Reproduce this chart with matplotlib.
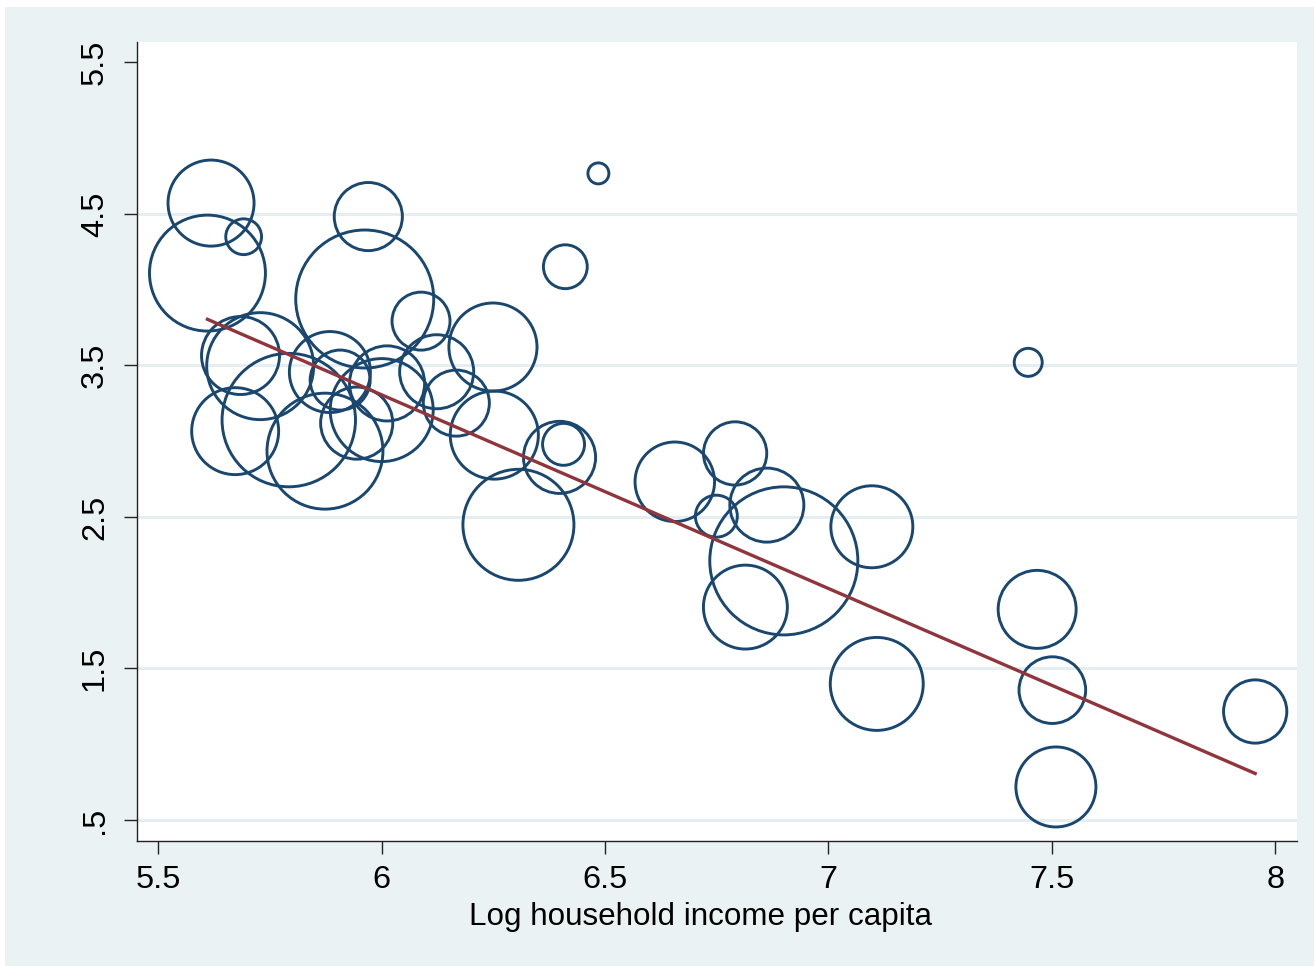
import matplotlib
matplotlib.use("Agg")
import matplotlib.pyplot as plt
from matplotlib.patches import Rectangle

# Log household income per capita (x), outcome (y), and population weights
income = [5.618, 5.610, 5.691, 5.970, 5.962, 6.088, 6.485, 6.411, 6.249, 6.123,
          6.167, 5.684, 5.728, 5.884, 5.907, 6.012, 6.000, 5.672, 5.792, 5.873,
          5.944, 6.252, 6.398, 6.407, 6.306, 6.656, 6.791, 6.749, 6.862, 6.900,
          6.814, 7.097, 7.108, 7.447, 7.467, 7.501, 7.509, 7.955]
outcome = [4.571, 4.109, 4.349, 4.482, 3.938, 3.792, 4.767, 4.151, 3.621, 3.458,
           3.251, 3.565, 3.495, 3.456, 3.403, 3.381, 3.205, 3.066, 3.139, 2.934,
           3.119, 3.040, 2.893, 2.979, 2.448, 2.732, 2.919, 2.505, 2.578, 2.210,
           1.905, 2.435, 1.398, 3.520, 1.890, 1.357, 0.718, 1.216]
weight = [18.5, 33.6, 3.2, 11.6, 47.6, 8.4, 1.1, 4.8, 19.4, 13.7,
          10.9, 15.2, 28.6, 16.4, 9.0, 14.1, 26.5, 18.9, 44.5, 33.6,
          13.0, 19.4, 13.0, 4.4, 30.8, 15.8, 10.0, 4.4, 13.7, 54.8,
          17.6, 16.8, 21.6, 1.96, 15.2, 11.1, 16.0, 10.0]

# Linear fit endpoints over the observed income range
fit_x = [5.610, 7.955]
fit_y = [3.804, 0.807]

x_ticks = [5.5, 6, 6.5, 7, 7.5, 8]
x_tick_labels = ["5.5", "6", "6.5", "7", "7.5", "8"]
y_ticks = [0.5, 1.5, 2.5, 3.5, 4.5, 5.5]
y_tick_labels = [".5", "1.5", "2.5", "3.5", "4.5", "5.5"]

NAVY = "#1A476F"
MAROON = "#90353B"
BG = "#EAF2F3"
GRID = "#E4EDF0"

W, H = 1314, 966
plt.rcParams["font.family"] = ["Liberation Sans", "DejaVu Sans"]

fig = plt.figure(figsize=(W / 100, H / 100), dpi=100)
fig.patch.set_facecolor("white")
fig.patches.append(Rectangle((5 / W, 0), 1 - 5 / W, 1 - 7 / H,
                             transform=fig.transFigure, facecolor=BG,
                             edgecolor="none", zorder=-10))

ax = fig.add_axes([137 / W, 1 - 840.7 / H, (1297 - 137) / W, (840.7 - 42) / H])
ax.set_facecolor("white")

ax.set_xlim(5.4523, 8.0486)
ax.set_ylim(0.3634, 5.634)

for yv in y_ticks[:-1]:
    ax.axhline(yv, color=GRID, lw=2.0, zorder=0)

# marker area proportional to weight (s in points^2)
sizes = [w * 207.4 for w in weight]
ax.scatter(income, outcome, s=sizes, facecolors="none", edgecolors=NAVY,
           linewidths=2.1, zorder=2)
ax.plot(fit_x, fit_y, color=MAROON, lw=2.4, zorder=3)

for side in ("top", "right"):
    ax.spines[side].set_visible(False)
for side in ("left", "bottom"):
    ax.spines[side].set_color("#222222")
    ax.spines[side].set_linewidth(1.0)

ax.set_xticks(x_ticks)
ax.set_xticklabels(x_tick_labels)
ax.set_yticks(y_ticks)
ax.set_yticklabels(y_tick_labels, rotation=90, va="center")
ax.tick_params(axis="both", length=9.5, width=1.0, color="#222222",
               labelsize=23.4, labelcolor="black")
ax.tick_params(axis="x", pad=8)
ax.tick_params(axis="y", pad=10)

ax.set_xlabel("Log household income per capita", fontsize=22.6, color="black")
ax.xaxis.set_label_coords((700.5 - 137) / (1297 - 137), (840.7 - 925) / (840.7 - 42))
ax.xaxis.label.set_verticalalignment("baseline")

fig.savefig("out.png", dpi=100, facecolor=fig.get_facecolor())
